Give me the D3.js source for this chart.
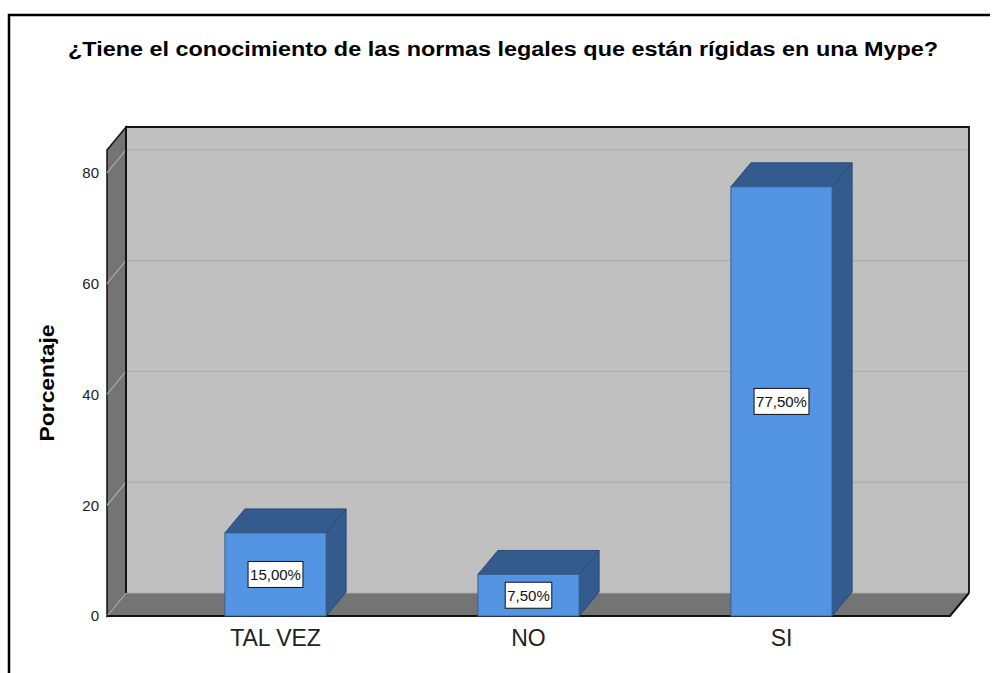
<!DOCTYPE html>
<html>
<head>
<meta charset="utf-8">
<script src="https://cdn.jsdelivr.net/npm/d3@7"></script>
<style>
  html, body { margin: 0; padding: 0; background: #fff; }
  svg { display: block; font-family: "Liberation Sans", Arial, sans-serif; }
</style>
</head>
<body>
<svg id="chart" width="995" height="673"></svg>
<script>
// datos del gráfico
var titleText = "¿Tiene el conocimiento de las normas legales que están rígidas en una Mype?";
var yLabel = "Porcentaje";
var categories = ["TAL VEZ", "NO", "SI"];
var percentages = [15.0, 7.5, 77.5];
var yTicks = [0, 20, 40, 60, 80];
var yMax = 84.15;

var svg = d3.select("#chart");

// plano frontal y profundidad 3D
var front = {left: 107, right: 950, top: 150, bottom: 616};
var depth = {dx: 19, dy: 23};
var barDepth = {dx: 20, dy: 24};

var x = d3.scaleBand()
  .domain(categories)
  .range([149, 908]);
var y = d3.scaleLinear()
  .domain([0, yMax])
  .range([front.bottom, front.top]);

var fmt = d3.formatLocale({decimal: ",", thousands: ".", grouping: [3], currency: ["", ""]}).format(".2f");

var bars = categories.map(function(c, i){
  return {category: c, value: percentages[i]};
});

function poly(points){
  return "M" + points.map(function(p){ return p.join(","); }).join("L") + "Z";
}

var bx0 = front.left + depth.dx, bx1 = front.right + depth.dx;
var by0 = front.top - depth.dy, by1 = front.bottom - depth.dy;

// pared del fondo
svg.append("rect")
  .attr("x", bx0).attr("y", by0)
  .attr("width", bx1 - bx0).attr("height", by1 - by0)
  .attr("fill", "#c0c0c0");

// pared lateral
svg.append("path")
  .attr("d", poly([[front.left, front.top], [bx0, by0], [bx0, by1], [front.left, front.bottom]]))
  .attr("fill", "#747474")
  .attr("stroke", "#111")
  .attr("stroke-width", 1.5);

// piso
svg.append("path")
  .attr("d", poly([[front.left, front.bottom], [bx0, by1], [bx1, by1], [front.right, front.bottom]]))
  .attr("fill", "#747474");

// líneas de cuadrícula
var grid = svg.append("g").attr("class", "grid");
grid.selectAll(".grid-back")
  .data(yTicks)
  .enter().append("line")
    .attr("x1", bx0).attr("x2", bx1)
    .attr("y1", function(d){ return y(d) - depth.dy; })
    .attr("y2", function(d){ return y(d) - depth.dy; })
    .attr("stroke", "#a9a9a9")
    .attr("stroke-width", 1.2);
grid.selectAll(".grid-side")
  .data(yTicks)
  .enter().append("line")
    .attr("x1", front.left).attr("x2", bx0)
    .attr("y1", function(d){ return y(d); })
    .attr("y2", function(d){ return y(d) - depth.dy; })
    .attr("stroke", "#a9a9a9")
    .attr("stroke-width", 1.2);

// bordes
svg.append("path")
  .attr("d", "M" + bx0 + "," + by1 + "V" + by0 + "H" + bx1 + "V" + by1)
  .attr("fill", "none")
  .attr("stroke", "#111")
  .attr("stroke-width", 1.8);
svg.append("path")
  .attr("d", "M" + front.left + "," + front.bottom + "H" + front.right + "L" + bx1 + "," + by1)
  .attr("fill", "none")
  .attr("stroke", "#111")
  .attr("stroke-width", 2);

// barras
var barW = x.bandwidth() * 0.4;
var bar = svg.selectAll(".bar")
  .data(bars)
  .enter().append("g")
    .attr("class", "bar");

function barX0(d){ return x(d.category) + (x.bandwidth() - barW) / 2; }

bar.append("path")
  .attr("d", function(d){
    var x0 = barX0(d), x1 = x0 + barW, yt = y(d.value), yb = y(0);
    return poly([[x1, yt], [x1 + barDepth.dx, yt - barDepth.dy], [x1 + barDepth.dx, yb - barDepth.dy], [x1, yb]]);
  })
  .attr("fill", "#335b8e")
  .attr("stroke", "#2a4a75")
  .attr("stroke-width", 1);

bar.append("path")
  .attr("d", function(d){
    var x0 = barX0(d), x1 = x0 + barW, yt = y(d.value);
    return poly([[x0, yt], [x0 + barDepth.dx, yt - barDepth.dy], [x1 + barDepth.dx, yt - barDepth.dy], [x1, yt]]);
  })
  .attr("fill", "#335b8e")
  .attr("stroke", "#2a4a75")
  .attr("stroke-width", 1);

bar.append("rect")
  .attr("x", barX0)
  .attr("y", function(d){ return y(d.value); })
  .attr("width", barW)
  .attr("height", function(d){ return y(0) - y(d.value); })
  .attr("fill", "#5495e3")
  .attr("stroke", "#3a5f8f")
  .attr("stroke-width", 1);

// etiquetas de valor
var label = bar.append("g")
  .attr("transform", function(d){
    return "translate(" + (barX0(d) + barW / 2) + "," + ((y(d.value) + y(0)) / 2) + ")";
  });
label.append("rect");
label.append("text")
  .attr("text-anchor", "middle")
  .attr("dy", "0.36em")
  .attr("font-size", 15)
  .attr("fill", "#111")
  .text(function(d){ return fmt(d.value) + "%"; });
label.each(function(){
  var g = d3.select(this);
  var bb = g.select("text").node().getBBox();
  g.select("rect")
    .attr("x", -bb.width / 2 - 2)
    .attr("y", -13)
    .attr("width", bb.width + 4)
    .attr("height", 26)
    .attr("fill", "#fff")
    .attr("stroke", "#111")
    .attr("stroke-width", 1);
});

// eje Y
var yAxis = svg.append("g")
  .attr("transform", "translate(" + front.left + ",0)")
  .call(d3.axisLeft(y).tickValues(yTicks).tickSize(0).tickPadding(8));
yAxis.select(".domain").remove();
yAxis.selectAll("text")
  .attr("font-size", 15)
  .attr("font-family", "Liberation Sans, Arial, sans-serif")
  .attr("fill", "#222");

// eje X
var xAxis = svg.append("g")
  .attr("transform", "translate(0," + front.bottom + ")")
  .call(d3.axisBottom(x).tickSize(0).tickPadding(14));
xAxis.select(".domain").remove();
xAxis.selectAll("text")
  .attr("font-size", 23)
  .attr("font-family", "Liberation Sans, Arial, sans-serif")
  .attr("fill", "#222");

// título del eje Y
svg.append("text")
  .attr("transform", "translate(54,383) rotate(-90)")
  .attr("text-anchor", "middle")
  .attr("font-size", 20)
  .attr("font-weight", "bold")
  .attr("textLength", 117)
  .attr("lengthAdjust", "spacingAndGlyphs")
  .attr("fill", "#000")
  .text(yLabel);

// título
svg.append("text")
  .attr("x", 503)
  .attr("y", 56)
  .attr("text-anchor", "middle")
  .attr("font-size", 20)
  .attr("font-weight", "bold")
  .attr("textLength", 870)
  .attr("lengthAdjust", "spacingAndGlyphs")
  .attr("fill", "#000")
  .text(titleText);

// marco
svg.append("path")
  .attr("d", "M9,673V15H990")
  .attr("fill", "none")
  .attr("stroke", "#000")
  .attr("stroke-width", 2.5);
</script>
</body>
</html>
